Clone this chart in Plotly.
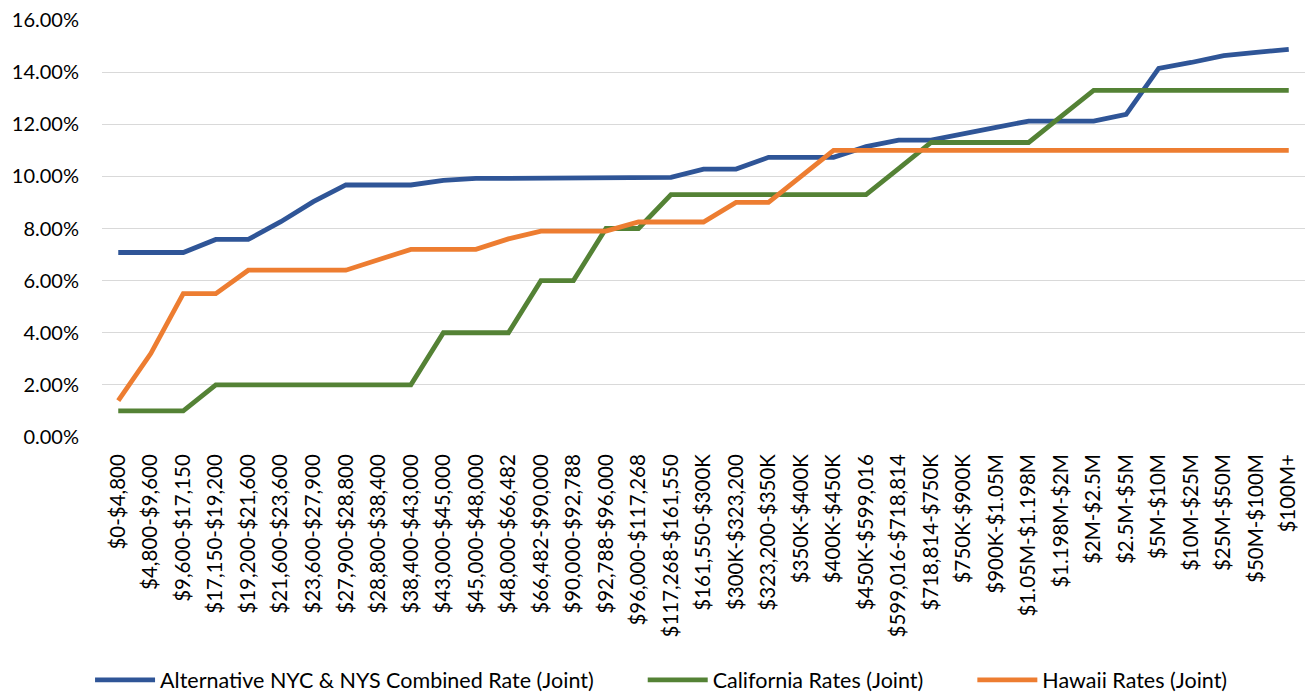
import plotly.graph_objects as go

brackets = [
    "$0-$4,800", "$4,800-$9,600", "$9,600-$17,150", "$17,150-$19,200",
    "$19,200-$21,600", "$21,600-$23,600", "$23,600-$27,900", "$27,900-$28,800",
    "$28,800-$38,400", "$38,400-$43,000", "$43,000-$45,000", "$45,000-$48,000",
    "$48,000-$66,482", "$66,482-$90,000", "$90,000-$92,788", "$92,788-$96,000",
    "$96,000-$117,268", "$117,268-$161,550", "$161,550-$300K", "$300K-$323,200",
    "$323,200-$350K", "$350K-$400K", "$400K-$450K", "$450K-$599,016",
    "$599,016-$718,814", "$718,814-$750K", "$750K-$900K", "$900K-$1.05M",
    "$1.05M-$1.198M", "$1.198M-$2M", "$2M-$2.5M", "$2.5M-$5M",
    "$5M-$10M", "$10M-$25M", "$25M-$50M", "$50M-$100M", "$100M+",
]

nyc_nys = [
    7.08, 7.08, 7.08, 7.58, 7.58, 8.26, 9.03, 9.67, 9.67, 9.67,
    9.85, 9.92, 9.92, 9.92, 9.96, 9.96, 9.96, 9.96, 10.28, 10.28,
    10.73, 10.73, 10.73, 11.14, 11.39, 11.39, 11.65, 11.88, 12.12, 12.12,
    12.12, 12.38, 14.14, 14.37, 14.63, 14.76, 14.87,
]

california = [
    1.0, 1.0, 1.0, 2.0, 2.0, 2.0, 2.0, 2.0, 2.0, 2.0,
    4.0, 4.0, 4.0, 6.0, 6.0, 8.0, 8.0, 9.3, 9.3, 9.3,
    9.3, 9.3, 9.3, 9.3, 10.3, 11.3, 11.3, 11.3, 11.3, 12.3,
    13.3, 13.3, 13.3, 13.3, 13.3, 13.3, 13.3,
]

hawaii = [
    1.4, 3.2, 5.5, 5.5, 6.4, 6.4, 6.4, 6.4, 6.8, 7.2,
    7.2, 7.2, 7.6, 7.9, 7.9, 7.9, 8.25, 8.25, 8.25, 9.0,
    9.0, 10.0, 11.0, 11.0, 11.0, 11.0, 11.0, 11.0, 11.0, 11.0,
    11.0, 11.0, 11.0, 11.0, 11.0, 11.0, 11.0,
]

y_ticks = [0, 2, 4, 6, 8, 10, 12, 14, 16]
y_tick_text = [f"{v:.2f}%" for v in y_ticks]

series = [
    ("Alternative NYC & NYS Combined Rate (Joint)", nyc_nys, "#2F5597"),
    ("California Rates (Joint)", california, "#548235"),
    ("Hawaii Rates (Joint)", hawaii, "#ED7D31"),
]

# non-breaking spaces widen the gap between legend entries
ENTRY_PAD = "\u00a0" * 8

fig = go.Figure()
for i, (name, values, color) in enumerate(series):
    label = name + (ENTRY_PAD if i < len(series) - 1 else "")
    fig.add_trace(go.Scatter(
        x=brackets, y=values, name=label, mode="lines",
        line=dict(color=color, width=4.8),
        hoverinfo="skip",
    ))

FONT = "Lato, 'Open Sans', sans-serif"

fig.update_layout(
    width=1310, height=693,
    margin=dict(l=102, r=5, t=20, b=256),
    paper_bgcolor="white", plot_bgcolor="white",
    font=dict(family=FONT, size=19, color="#000000"),
    showlegend=True,
    legend=dict(
        orientation="h",
        xref="container", yref="container",
        x=0.505, y=0.019, xanchor="center", yanchor="middle",
        font=dict(family=FONT, size=21.5, color="#000000"),
        itemwidth=60,
        traceorder="normal",
    ),
    xaxis=dict(
        type="category",
        tickangle=-90,
        tickfont=dict(family=FONT, size=20.5, color="#000000"),
        showgrid=False,
        showline=False,
        zeroline=False,
        ticks="",
        ticklabelstandoff=12,
        range=[-0.5, len(brackets) - 0.5],
    ),
    yaxis=dict(
        range=[0, 16],
        tickvals=y_ticks,
        ticktext=y_tick_text,
        tickfont=dict(family=FONT, size=20, color="#000000"),
        showgrid=True,
        gridcolor="#D9D9D9",
        gridwidth=1.3,
        zeroline=False,
        showline=False,
        ticks="",
        ticklabelstandoff=22,
    ),
)

fig.write_html("out.html")
